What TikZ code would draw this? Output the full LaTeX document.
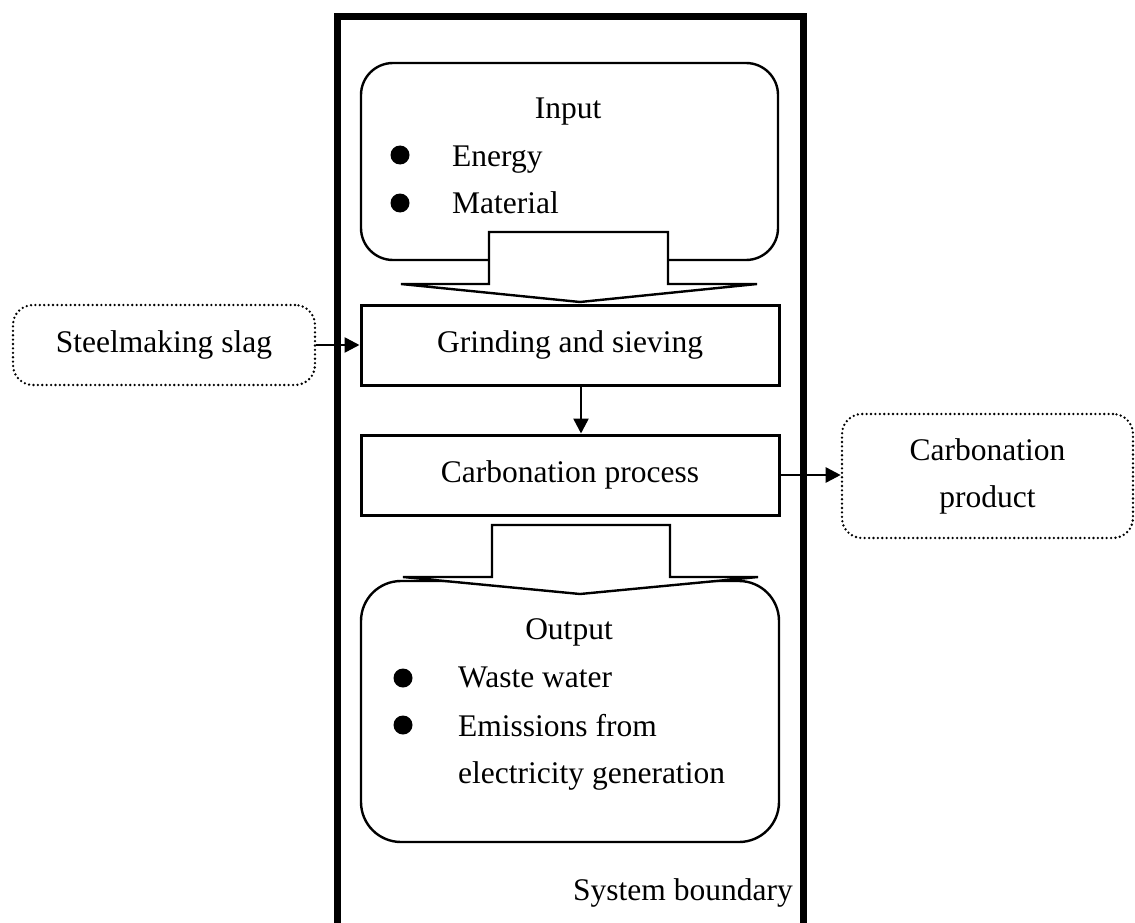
\documentclass[tikz,border=0pt]{standalone}
\usepackage{fontspec}
\setmainfont{Liberation Serif}
\usetikzlibrary{arrows.meta,calc}
\begin{document}
\begin{tikzpicture}[x=1pt,y=-1pt,
  every node/.style={font=\fontsize{31.5}{47}\selectfont, inner sep=0pt},
  procbox/.style={draw, line width=3pt, fill=white, minimum width=418pt, minimum height=80pt},
  roundbox/.style={draw, line width=2.4pt, rounded corners=#1, fill=white},
  dotbox/.style={draw, line width=2.6pt, line cap=round, dash pattern=on 0pt off 4.4pt,
                 rounded corners=20pt, align=center},
  flow/.style={line width=2.6pt, -{Triangle[length=15pt,width=15pt]}},
  blockarrow/.style={draw, line width=2.4pt, fill=white, line join=miter},
  bullet/.style={fill=black},
  itemtext/.style={anchor=base west},
  boundary/.style={line width=7pt, line join=miter},
]
\useasboundingbox (0,0) rectangle (1135,923);
\clip (0,0) rectangle (1135,923);

% system boundary (open at the bottom of the page)
\draw[boundary] (337,940) -- (337,17) -- (803,17) -- (803,940);

% input block
\node[roundbox=32pt, minimum width=417pt, minimum height=197pt] (input) at (569.5,161.5) {};
\node[anchor=base] (inputtitle) at (568,119) {Input};
\fill[bullet] (400,155) circle[radius=9.5pt];
\node[itemtext] (energy) at (452,167) {Energy};
\fill[bullet] (400,203) circle[radius=9.5pt];
\node[itemtext] (material) at (452,213) {Material};

% wide arrow from input to grinding
\draw[blockarrow] (489,232) -- (668,232) -- (668,284) -- (757,284) -- (580,302)
                  -- (401,284) -- (489,284) -- cycle;

% process steps
\node[procbox] (grinding) at (570,345) {Grinding and sieving};
\node[procbox] (carbon) at (570,475) {Carbonation process};

% external flows
\node[dotbox, minimum width=302pt, minimum height=80pt] (slag) at (164,345) {Steelmaking slag};
\node[dotbox, minimum width=291pt, minimum height=124pt] (product) at (987.5,476)
  {Carbonation\\product};

% output block
\node[roundbox=40pt, minimum width=418pt, minimum height=261pt] (output) at (570,711.5) {};
\node[anchor=base] (outtitle) at (569,639) {Output};
\fill[bullet] (403,678) circle[radius=9.5pt];
\node[itemtext] (waste) at (458,687) {Waste water};
\fill[bullet] (403,725) circle[radius=9.5pt];
\node[itemtext] (emis1) at (458,736) {Emissions from};
\node[itemtext] (emis2) at (458,783) {electricity generation};

% wide arrow from carbonation to output
\draw[blockarrow] (492,525) -- (670,525) -- (670,577) -- (758,577) -- (580,594)
                  -- (403,577) -- (492,577) -- cycle;

% connectors
\draw[flow] (slag.east) -- (grinding.west);
\draw[flow] ($(grinding.south)+(11,0)$) -- ($(carbon.north)+(11,0)$);
\draw[flow] (carbon.east) -- (carbon.east -| product.west);

% boundary label
\node[itemtext] (boundlabel) at (573,900) {System boundary};
\end{tikzpicture}
\end{document}
